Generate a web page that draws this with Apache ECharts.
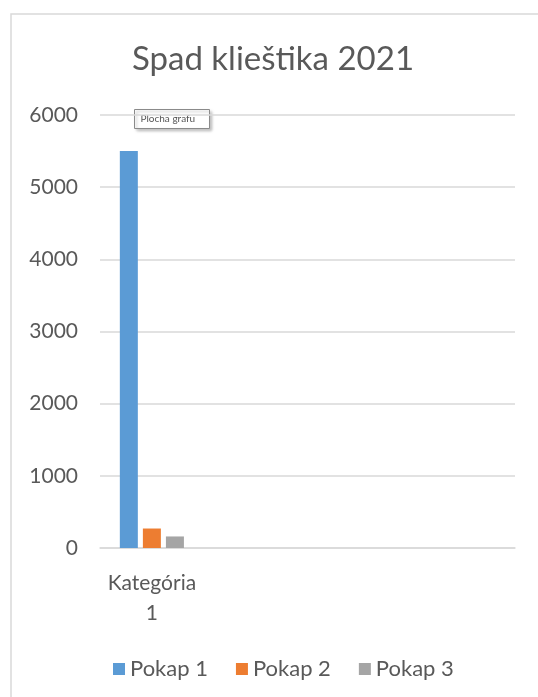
<!DOCTYPE html>
<html>
<head>
<meta charset="utf-8">
<script src="https://cdn.jsdelivr.net/npm/echarts@6/dist/echarts.min.js"></script>
<style>html,body{margin:0;padding:0;background:#fff}#c{width:538px;height:697px}</style>
</head>
<body>
<div id="c"></div>
<script>
const categories = ["Kategória 1", "", "", ""];
const seriesNames = ["Pokap 1", "Pokap 2", "Pokap 3"];
const pokap1 = [5500, null, null, null];
const pokap2 = [270, null, null, null];
const pokap3 = [160, null, null, null];
const yTicks = [0, 1000, 2000, 3000, 4000, 5000, 6000];

const colors = ["#5b9bd5", "#ed7d31", "#a5a5a5"];
const font = "Lato, 'Open Sans', sans-serif";
const textColor = "#595959";

const chart = echarts.init(document.getElementById('c'), null, {renderer: 'canvas'});
chart.setOption({
  animation: false,
  color: colors,
  textStyle: {fontFamily: font},
  title: {
    text: "Spad klieštika 2021",
    left: 268, textAlign: 'center', top: 38,
    textStyle: {fontFamily: font, fontSize: 33, fontWeight: 'normal', color: textColor}
  },
  grid: {left: 100, right: 23, top: 115, bottom: 149, containLabel: false},
  xAxis: {
    type: 'category',
    data: categories,
    axisLine: {show: true, lineStyle: {color: '#d9d9d9', width: 1.5}},
    axisTick: {show: false},
    axisLabel: {
      interval: 0, margin: 20, color: textColor, fontSize: 21, fontFamily: font,
      lineHeight: 30,
      formatter: v => v.replace(' ', '\n')
    }
  },
  yAxis: {
    type: 'value',
    min: yTicks[0], max: yTicks[yTicks.length - 1], interval: 1000,
    axisLine: {show: false},
    axisTick: {show: false},
    splitLine: {lineStyle: {color: '#d9d9d9', width: 1.5}},
    axisLabel: {margin: 22, color: textColor, fontSize: 21, fontFamily: font, formatter: v => String(v)}
  },
  legend: {
    data: seriesNames,
    left: 108, top: 653,
    icon: 'rect', itemWidth: 12, itemHeight: 12, itemGap: 28,
    textStyle: {color: textColor, fontSize: 22, fontFamily: font}
  },
  series: [
    {name: seriesNames[0], type: 'bar', data: pokap1, barWidth: 18, barGap: '28%'},
    {name: seriesNames[1], type: 'bar', data: pokap2, barWidth: 18, barGap: '28%'},
    {name: seriesNames[2], type: 'bar', data: pokap3, barWidth: 18, barGap: '28%'}
  ],
  graphic: [
    {type: 'rect', silent: true, shape: {x: 11, y: 14, width: 700, height: 900},
     style: {fill: 'none', stroke: '#d9d9d9', lineWidth: 1.5}},
    {type: 'group', left: 134, top: 109, children: [
      {type: 'rect', shape: {x: 0, y: 0, width: 75, height: 19},
       style: {fill: '#fff', stroke: '#8a8a8a', lineWidth: 1, shadowBlur: 3, shadowOffsetX: 2, shadowOffsetY: 2, shadowColor: 'rgba(0,0,0,0.25)'}},
      {type: 'text', x: 6, y: 4, style: {text: 'Plocha grafu', fontSize: 10, fontFamily: font, fill: '#555'}}
    ]}
  ]
});
</script>
</body>
</html>
